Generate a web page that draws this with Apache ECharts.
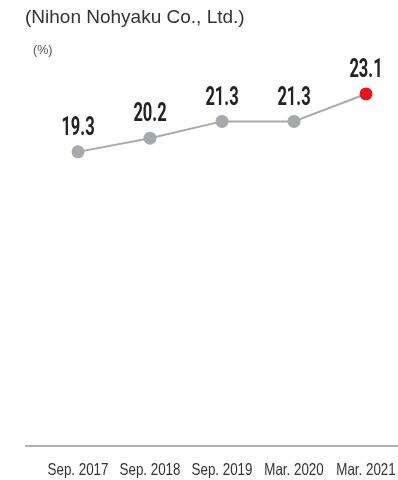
<!DOCTYPE html>
<html>
<head>
<meta charset="utf-8">
<script src="https://cdn.jsdelivr.net/npm/echarts@6/dist/echarts.min.js"></script>
<style>
  html, body { margin: 0; padding: 0; background: #fff; }
  #chart { width: 398px; height: 480px; }
</style>
</head>
<body>
<div id="chart"></div>
<script>
// Periods on the horizontal axis
const periods = ['Sep. 2017', 'Sep. 2018', 'Sep. 2019', 'Mar. 2020', 'Mar. 2021'];
// Ratio (%) for each period
const ratios = [19.3, 20.2, 21.3, 21.3, 23.1];

const GREY = '#a8a9ad';
const RED = '#e6141e';

const chart = echarts.init(document.getElementById('chart'));

const pointData = ratios.map((v, i) => ({
  value: v,
  itemStyle: { color: i === ratios.length - 1 ? RED : GREY }
}));

// narrow text helper: horizontally condensed text anchored at a data coordinate
function condensedText(pt, dy, text, font, color, sx) {
  return {
    type: 'text',
    x: pt[0],
    y: pt[1] + dy,
    scaleX: sx,
    style: {
      x: 0,
      y: 0,
      text: text,
      fill: color,
      font: font,
      textAlign: 'center',
      textVerticalAlign: 'middle'
    }
  };
}

chart.setOption({
  animation: false,
  grid: { left: 78, right: 32, top: 65, bottom: 34, outerBoundsMode: 'none' },
  xAxis: {
    type: 'category',
    data: periods,
    boundaryGap: false,
    axisLine: { show: false },
    axisTick: { show: false },
    axisLabel: { show: false }
  },
  yAxis: {
    type: 'value',
    min: 0,
    max: 25,
    show: false,
    splitLine: { show: false }
  },
  graphic: [
    {
      type: 'text',
      left: 25,
      top: 8,
      style: {
        text: '(Nihon Nohyaku Co., Ltd.)',
        fill: '#333',
        font: '19px "Liberation Sans", Arial, sans-serif'
      }
    },
    {
      type: 'text',
      left: 33,
      top: 44,
      style: {
        text: '(%)',
        fill: '#555',
        font: '12.5px "Liberation Sans", Arial, sans-serif'
      }
    },
    {
      type: 'line',
      shape: { x1: 25, y1: 446, x2: 398, y2: 446 },
      style: { stroke: '#666', lineWidth: 1 }
    }
  ],
  series: [
    {
      type: 'line',
      data: pointData,
      symbol: 'circle',
      symbolSize: 13,
      lineStyle: { color: GREY, width: 2 },
      z: 2
    },
    {
      // bold value labels above each point
      type: 'custom',
      data: ratios.map((v, i) => [i, v]),
      z: 3,
      renderItem: function (params, api) {
        const pt = api.coord([api.value(0), api.value(1)]);
        return condensedText(pt, -23, api.value(1).toFixed(1),
          'bold 25px Roboto, "Liberation Sans", Arial, sans-serif', '#222', 0.66);
      }
    },
    {
      // period labels under the baseline
      type: 'custom',
      data: periods.map((p, i) => [i, 0]),
      z: 3,
      renderItem: function (params, api) {
        const pt = api.coord([api.value(0), 0]);
        return condensedText(pt, 24, periods[params.dataIndex],
          '16.5px "Liberation Sans", Arial, sans-serif', '#333', 0.81);
      }
    }
  ]
});
</script>
</body>
</html>
